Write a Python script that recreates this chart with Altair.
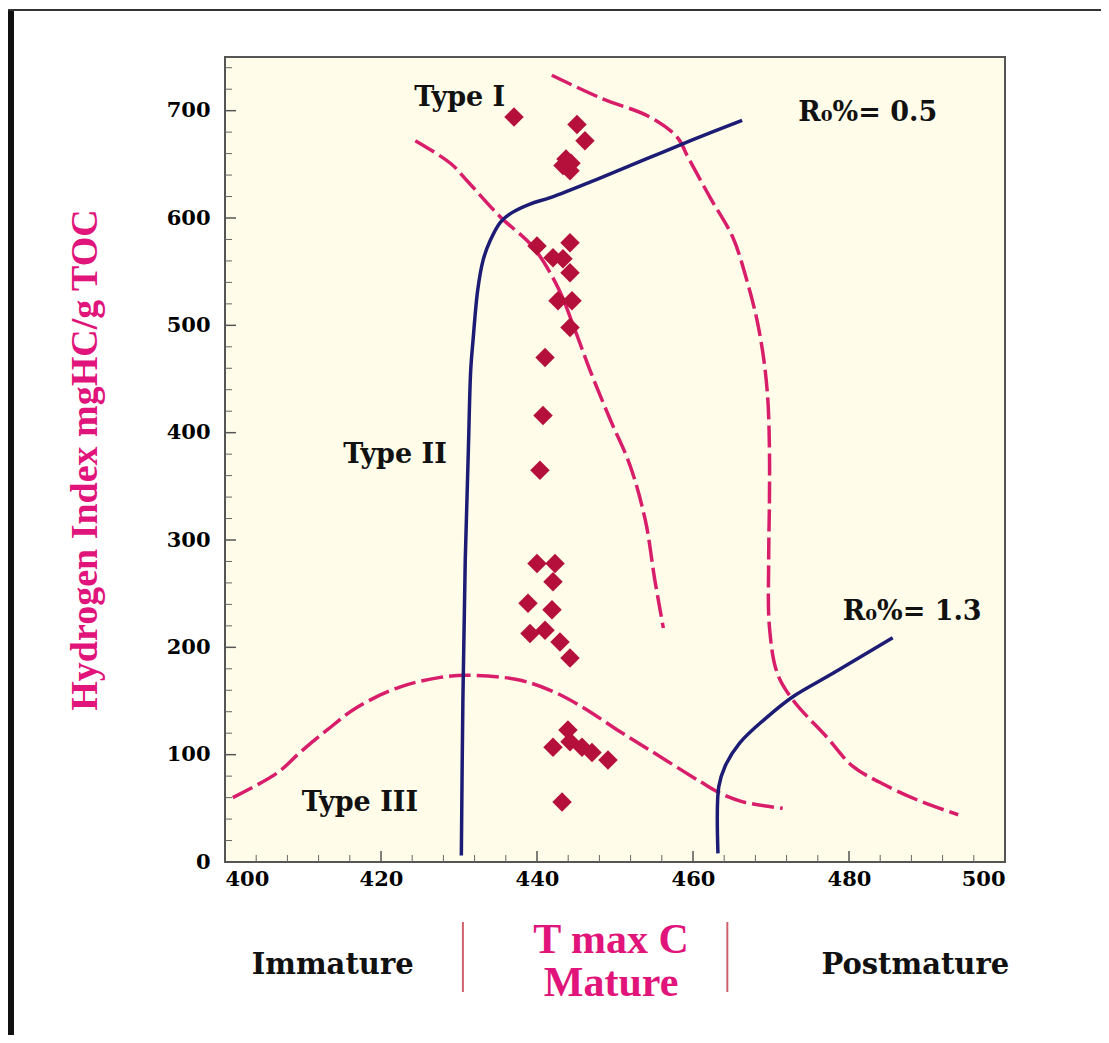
import altair as alt
import pandas as pd

# ---- data ----
tmax = [437.05, 445.13, 446.15, 443.72, 444.36, 443.33, 444.23, 440.0, 444.23, 442.05,
        443.33, 444.23, 442.69, 444.49, 444.23, 441.03, 440.77, 440.38, 440.0, 442.31,
        442.05, 438.85, 441.92, 439.10, 441.03, 442.95, 444.23, 443.97, 442.05, 444.23,
        445.77, 447.05, 449.10, 443.21]
hi = [694, 687, 672, 655, 651, 649, 644, 574, 577, 563,
      562, 549, 523, 523, 498, 470, 416, 365, 278, 278,
      261, 241, 235, 213, 216, 205, 190, 123, 107, 112,
      107, 102, 95, 56]

ro05_x = [430.3, 430.5, 430.8, 431.2, 431.5, 431.8, 432.4, 433.1, 434.0, 435.3, 436.8, 439.1, 441.7, 448.0, 454.0, 460.0, 466.3]
ro05_y = [6, 151, 281, 384, 458, 486, 533, 561, 579, 596, 605, 613, 619, 637, 655, 673, 691]
ro13_x = [463.2, 463.3, 464.1, 466.0, 469.5, 472.8, 478.0, 485.6]
ro13_y = [8, 70, 89, 111, 135, 154, 176, 209]

typeI_x = [441.9, 448.1, 454.5, 458.0, 459.4, 462.2, 465.1, 466.9, 468.2, 469.1, 469.6, 469.8, 469.8, 469.7, 469.8, 470.8, 472.8, 477.2, 480.5, 484.0, 488.7, 494.0]
typeI_y = [733, 712, 694, 675, 656, 619, 582, 542, 505, 467, 430, 384, 337, 281, 219, 176, 151, 116, 89, 74, 58, 44]
typeII_x = [424.4, 428.9, 431.0, 435.3, 439.5, 442.7, 444.9, 446.8, 449.4, 451.9, 453.9, 455.1, 456.2]
typeII_y = [672, 651, 635, 601, 573, 535, 495, 458, 412, 370, 318, 263, 218]
typeIII_x = [401.0, 406.7, 409.6, 413.1, 416.9, 422.4, 427.6, 431.0, 437.4, 441.7, 445.9, 450.3, 454.5, 460.9, 463.5, 466.4, 471.5]
typeIII_y = [60, 83, 102, 123, 144, 163, 172, 174, 170, 160, 144, 123, 104, 75, 64, 56, 50]

x_major = [400, 420, 440, 460, 480, 500]
x_minor = [v for v in range(404, 500, 4) if v % 20 != 0]
y_major = [0, 100, 200, 300, 400, 500, 600, 700]
y_minor = [v for v in range(20, 750, 20) if v % 100 != 0]

in_labels = ["Type I", "Type II", "Type III", "R₀%= 0.5", "R₀%= 1.3"]
in_label_x = [430.1, 421.8, 417.3, 482.4, 488.1]
in_label_y = [712, 379, 55, 698, 233]

zone_labels = ["Immature", "Postmature"]
zone_x = [413.8, 488.5]
mid_labels = ["T max C", "Mature"]
mid_x = [449.5, 449.5]
sep_x = [430.5, 464.4]

# ---- styling ----
W, H = 780, 805
PINK = "#D81E6A"
NAVY = "#1C1C74"
DIAMOND = "#B5103C"
MAGENTA = "#E0147A"
BLACK_FONT = "DejaVu Serif"
SERIF = "Liberation Serif"

xscale = alt.Scale(domain=[400, 500], nice=False, zero=False)
yscale = alt.Scale(domain=[0, 750], nice=False, zero=True)
xaxis = alt.Axis(values=x_major, format="d", grid=False, domain=False, ticks=False,
                 labelFont=BLACK_FONT, labelFontWeight="bold", labelFontSize=21,
                 labelColor="black", labelPadding=6, title=None)
yaxis = alt.Axis(values=y_major, format="d", grid=False, domain=False, ticks=False,
                 labelFont=BLACK_FONT, labelFontWeight="bold", labelFontSize=21,
                 labelColor="black", labelPadding=15,
                 title="Hydrogen Index mgHC/g TOC", titleFont=SERIF, titleFontSize=38,
                 titleFontWeight="bold", titleColor=MAGENTA, titleAngle=270,
                 titleX=-140, titleY=H / 2, titleAlign="center", titleBaseline="middle")


def X(f="x"):
    return alt.X(f"{f}:Q", scale=xscale, axis=xaxis)


def Y(f="y"):
    return alt.Y(f"{f}:Q", scale=yscale, axis=yaxis)


pts_df = pd.DataFrame({"x": tmax, "y": hi})
points = alt.Chart(pts_df).mark_point(shape="diamond", filled=True, size=380,
                                      color=DIAMOND, opacity=1).encode(x=X(), y=Y())


def curve_df(name, xs, ys):
    return pd.DataFrame({"series": name, "x": xs, "y": ys, "o": list(range(len(xs)))})


blue_df = pd.concat([curve_df("Ro 0.5", ro05_x, ro05_y), curve_df("Ro 1.3", ro13_x, ro13_y)])
pink_df = pd.concat([curve_df("Type I", typeI_x, typeI_y),
                     curve_df("Type II", typeII_x, typeII_y),
                     curve_df("Type III", typeIII_x, typeIII_y)])

blue = alt.Chart(blue_df).mark_line(color=NAVY, strokeWidth=3.5, interpolate="catmull-rom").encode(
    x=X(), y=Y(), order="o:Q", detail="series:N")
pink = alt.Chart(pink_df).mark_line(color=PINK, strokeWidth=3.5, strokeDash=[22, 6],
                                    interpolate="catmull-rom").encode(
    x=X(), y=Y(), order="o:Q", detail="series:N")

# inward ticks
ymaj = alt.Chart(pd.DataFrame({"y": y_major})).mark_rule(color="#555", strokeWidth=1.5).encode(
    y=Y(), x=alt.value(0), x2=alt.value(11))
ymin = alt.Chart(pd.DataFrame({"y": y_minor})).mark_rule(color="#666", strokeWidth=1).encode(
    y=Y(), x=alt.value(0), x2=alt.value(7))
xmaj = alt.Chart(pd.DataFrame({"x": x_major})).mark_rule(color="#555", strokeWidth=1.5).encode(
    x=X(), y=alt.value(H), y2=alt.value(H - 11))
xmin = alt.Chart(pd.DataFrame({"x": x_minor})).mark_rule(color="#666", strokeWidth=1).encode(
    x=X(), y=alt.value(H), y2=alt.value(H - 7))

inlab = alt.Chart(pd.DataFrame({"x": in_label_x, "y": in_label_y, "t": in_labels})).mark_text(
    font=BLACK_FONT, fontWeight="bold", fontSize=27, color="#111", align="center",
    baseline="middle").encode(x=X(), y=Y(), text="t:N")

zone = alt.Chart(pd.DataFrame({"x": zone_x, "t": zone_labels})).mark_text(
    font=BLACK_FONT, fontWeight="bold", fontSize=29, color="#111", align="center",
    baseline="middle").encode(x=X(), y=alt.value(908), text="t:N")
mid1 = alt.Chart(pd.DataFrame({"x": mid_x[:1], "t": mid_labels[:1]})).mark_text(
    font=SERIF, fontWeight="bold", fontSize=42, color=MAGENTA, align="center",
    baseline="middle").encode(x=X(), y=alt.value(883), text="t:N")
mid2 = alt.Chart(pd.DataFrame({"x": mid_x[1:], "t": mid_labels[1:]})).mark_text(
    font=SERIF, fontWeight="bold", fontSize=42, color=MAGENTA, align="center",
    baseline="middle").encode(x=X(), y=alt.value(926), text="t:N")
seps = alt.Chart(pd.DataFrame({"x": sep_x})).mark_rule(color="#D0606E", strokeWidth=2).encode(
    x=X(), y=alt.value(865), y2=alt.value(935))

# picture frame of the original screenshot
frame_df = pd.DataFrame({"a": [0]})
frame_left = alt.Chart(frame_df).mark_rule(color="#111", strokeWidth=6).encode(
    x=alt.value(-214), y=alt.value(-47), y2=alt.value(978))
frame_top = alt.Chart(frame_df).mark_rule(color="#333", strokeWidth=2).encode(
    x=alt.value(-217), x2=alt.value(876), y=alt.value(-47))

chart = alt.layer(
    pink, blue, points, ymaj, ymin, xmaj, xmin, inlab, zone, mid1, mid2, seps,
    frame_left, frame_top
).properties(
    width=W, height=H,
    autosize=alt.AutoSizeParams(type="none"),
    padding={"left": 217, "top": 49, "right": 96, "bottom": 173},
    background="white",
).configure_view(fill="#FFFDEA", stroke="#555", strokeWidth=2)

chart.save("out.html", embed_options={"renderer": "svg", "actions": False})
